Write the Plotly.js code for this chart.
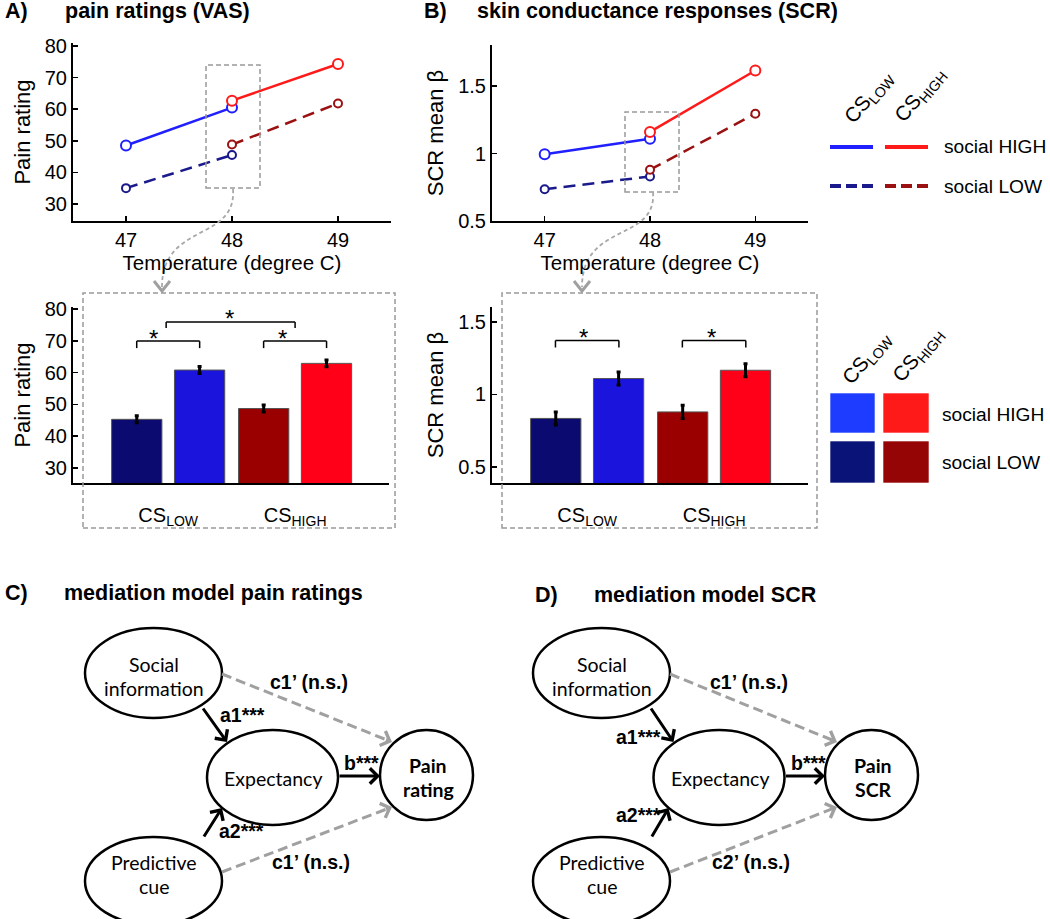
<!DOCTYPE html>
<html><head><meta charset="utf-8">
<script src="https://cdn.plot.ly/plotly-3.0.1.min.js"></script>
<style>html,body{margin:0;padding:0;background:#fff}</style>
</head><body><div id="chart" style="width:1050px;height:919px"></div>
<script>
// ---------------- DATA ----------------
const tempLowCue = [47, 48];
const tempHighCue = [48, 49];
const temperatureTicks = [47, 48, 49];
// pain ratings (VAS), line plot
const painCsLowSocHigh = [48.5, 60.5];
const painCsHighSocHigh = [62.7, 74.3];
const painCsLowSocLow = [35.0, 45.5];
const painCsHighSocLow = [48.8, 61.8];
// SCR mean beta, line plot
const scrCsLowSocHigh = [0.995, 1.11];
const scrCsHighSocHigh = [1.16, 1.615];
const scrCsLowSocLow = [0.735, 0.83];
const scrCsHighSocLow = [0.88, 1.295];
// bar plots at 48 degree C
const cueCategories = ['CS_LOW', 'CS_HIGH'];
const cueTickLabels = ['CS<sub>LOW</sub>', 'CS<sub>HIGH</sub>'];
const painBarSocLow = [45.3, 48.7];
const painBarSocLowErr = [1.1, 1.1];
const painBarSocHigh = [60.8, 62.9];
const painBarSocHighErr = [1.1, 1.1];
const scrBarSocLow = [0.835, 0.88];
const scrBarSocLowErr = [0.045, 0.045];
const scrBarSocHigh = [1.11, 1.167];
const scrBarSocHighErr = [0.045, 0.045];
const painTicks = [30, 40, 50, 60, 70, 80];
const scrTicks = [0.5, 1, 1.5];
const scrTickText = ['0.5', '1', '1.5'];
const legendRows = ['social HIGH', 'social LOW'];

// ---------------- STYLE ----------------
const C = {
  lineBlue: '#1f1fff', lineRed: '#ff1a1a', lineNavy: '#1a1a8c', lineDarkRed: '#9b1010',
  barNavy: '#0a0a70', barBlue: '#1a14dc', barDarkRed: '#9a0000', barRed: '#ff0018',
  sqBlue: '#1e3cff', sqRed: '#ff1a1a', sqNavy: '#0a1478', sqDarkRed: '#960505',
  grey: '#a0a0a0'
};
const FONT = 'Liberation Sans, Arial, Helvetica, sans-serif';
const DFONT = 'Lato, Carlito, Calibri, sans-serif';
const W = 1050, H = 919;
const px = x => x / W;
const py = y => 1 - y / H;

function lineTrace(x, y, color, dash, xa, ya, msize) {
  return {
    x: x, y: y, xaxis: xa, yaxis: ya, type: 'scatter', mode: 'lines+markers',
    line: {color: color, width: 2.5, dash: dash},
    marker: {symbol: 'circle', size: msize, color: 'white', line: {color: color, width: 2}},
    hoverinfo: 'skip'
  };
}
function barTrace(y, err, colors, xa, ya) {
  return {
    x: cueCategories, y: y, xaxis: xa, yaxis: ya, type: 'bar',
    marker: {color: colors, line: {color: '#555', width: 1}},
    error_y: {type: 'data', array: err, visible: true, color: 'black', thickness: 3, width: 2},
    hoverinfo: 'skip'
  };
}

const data = [
  lineTrace(tempLowCue, painCsLowSocHigh, C.lineBlue, 'solid', 'x', 'y', 10),
  lineTrace(tempHighCue, painCsHighSocHigh, C.lineRed, 'solid', 'x', 'y', 10),
  lineTrace(tempLowCue, painCsLowSocLow, C.lineNavy, '12px,7px', 'x', 'y', 8),
  lineTrace(tempHighCue, painCsHighSocLow, C.lineDarkRed, '12px,7px', 'x', 'y', 8),
  lineTrace(tempLowCue, scrCsLowSocHigh, C.lineBlue, 'solid', 'x2', 'y2', 10),
  lineTrace(tempHighCue, scrCsHighSocHigh, C.lineRed, 'solid', 'x2', 'y2', 10),
  lineTrace(tempLowCue, scrCsLowSocLow, C.lineNavy, '12px,7px', 'x2', 'y2', 8),
  lineTrace(tempHighCue, scrCsHighSocLow, C.lineDarkRed, '12px,7px', 'x2', 'y2', 8),
  barTrace(painBarSocLow, painBarSocLowErr, [C.barNavy, C.barDarkRed], 'x3', 'y3'),
  barTrace(painBarSocHigh, painBarSocHighErr, [C.barBlue, C.barRed], 'x3', 'y3'),
  barTrace(scrBarSocLow, scrBarSocLowErr, [C.barNavy, C.barDarkRed], 'x4', 'y4'),
  barTrace(scrBarSocHigh, scrBarSocHighErr, [C.barBlue, C.barRed], 'x4', 'y4')
];

const axBase = {
  showline: true, linecolor: 'black', linewidth: 2, showgrid: false, zeroline: false,
  ticks: 'inside', ticklen: 5, tickwidth: 1.5, tickcolor: 'black',
  tickfont: {family: FONT, size: 20, color: 'black'}, fixedrange: true
};
function xLine(dom, anchor) {
  return Object.assign({}, axBase, {domain: dom, anchor: anchor, range: [46.5, 49.5],
    tickmode: 'array', tickvals: temperatureTicks,
    title: {text: 'Temperature (degree C)', font: {family: FONT, size: 20.5, color: 'black'}, standoff: 3}});
}
function xBar(dom, anchor) {
  return Object.assign({}, axBase, {domain: dom, anchor: anchor, type: 'category',
    categoryorder: 'array', categoryarray: cueCategories, range: [-0.75, 1.74],
    tickmode: 'array', tickvals: cueCategories, ticktext: cueTickLabels, ticks: '',
    ticklabelstandoff: 13});
}
function yAx(dom, anchor, range, tv, tt, title) {
  const o = Object.assign({}, axBase, {domain: dom, anchor: anchor, range: range,
    tickmode: 'array', tickvals: tv,
    title: {text: title, font: {family: FONT, size: 22, color: 'black'}, standoff: 8}});
  if (tt) o.ticktext = tt;
  return o;
}

const shapes = [];
const annotations = [];
function P(xx, yy) { return px(xx).toFixed(5) + ',' + py(yy).toFixed(5); }
function shLine(x0, y0, x1, y1, color, width, dash) {
  shapes.push({type: 'line', xref: 'paper', yref: 'paper', x0: px(x0), y0: py(y0), x1: px(x1), y1: py(y1),
    line: {color: color, width: width, dash: dash || 'solid'}});
}
function shRect(x0, y0, x1, y1, line, fill) {
  shapes.push({type: 'rect', xref: 'paper', yref: 'paper', x0: px(x0), y0: py(y1), x1: px(x1), y1: py(y0),
    line: line, fillcolor: fill || 'rgba(0,0,0,0)'});
}
function shEllipse(cx, cy, rx, ry) {
  shapes.push({type: 'circle', xref: 'paper', yref: 'paper', x0: px(cx - rx), x1: px(cx + rx),
    y0: py(cy + ry), y1: py(cy - ry), line: {color: 'black', width: 2.5}, fillcolor: 'rgba(0,0,0,0)'});
}
function shPath(d, color, width, dash) {
  shapes.push({type: 'path', xref: 'paper', yref: 'paper', path: d, line: {color: color, width: width, dash: dash || 'solid'}});
}
function txt(x, y, text, size, opts) {
  opts = opts || {};
  annotations.push({xref: 'paper', yref: 'paper', x: px(x), y: py(y), text: text, showarrow: false,
    xanchor: opts.xa || 'center', yanchor: 'middle', textangle: opts.angle || 0,
    font: {family: opts.family || FONT, size: size, color: opts.color || 'black'}});
}
function arrow(x0, y0, x1, y1, color, width) {
  annotations.push({xref: 'paper', yref: 'paper', x: px(x1), y: py(y1), ax: x0 - x1, ay: y0 - y1,
    text: '', showarrow: true, arrowhead: 4, arrowsize: 1, arrowwidth: width, arrowcolor: color, standoff: 0});
}
function dashedArrow(x0, y0, x1, y1) {
  const L = Math.hypot(x1 - x0, y1 - y0), ux = (x1 - x0) / L, uy = (y1 - y0) / L;
  shLine(x0, y0, x1 - ux * 6, y1 - uy * 6, C.grey, 3, '10px,5px');
  arrow(x1 - ux * 8, y1 - uy * 8, x1, y1, C.grey, 3);
}
function bracket(xref, yref, xa, xb, ytop, ybot) {
  const b = {type: 'line', xref: xref, yref: yref, line: {color: 'black', width: 1.5}};
  shapes.push(Object.assign({}, b, {x0: xa, x1: xb, y0: ytop, y1: ytop}));
  shapes.push(Object.assign({}, b, {x0: xa, x1: xa, y0: ytop, y1: ybot}));
  shapes.push(Object.assign({}, b, {x0: xb, x1: xb, y0: ytop, y1: ybot}));
}
function star(xref, yref, x, y) {
  annotations.push({xref: xref, yref: yref, x: x, y: y, text: '*', showarrow: false,
    font: {family: FONT, size: 24, color: 'black'}});
}

// panel titles
const TS = 21.5;
txt(3, 11, '<b>A)</b>', TS, {xa: 'left'});
txt(63, 11, '<b>pain ratings (VAS)</b>', TS, {xa: 'left'});
txt(422, 11, '<b>B)</b>', TS, {xa: 'left'});
txt(475, 11, '<b>skin conductance responses (SCR)</b>', TS, {xa: 'left'});
txt(3, 593, '<b>C)</b>', TS, {xa: 'left'});
txt(62, 593, '<b>mediation model pain ratings</b>', TS, {xa: 'left'});
txt(533, 595, '<b>D)</b>', TS, {xa: 'left'});
txt(592, 595, '<b>mediation model SCR</b>', TS, {xa: 'left'});

// zoom boxes and connectors
const boxLine = {color: '#999', width: 1.5, dash: '5px,3px'};
shRect(206, 65, 260, 188, boxLine);
shRect(625, 112, 679, 192, boxLine);
shRect(83, 293, 395, 528, boxLine);
shRect(502, 293, 817, 528, boxLine);
function curved(dx, dy) {
  shPath('M' + P(233 + dx, 189 + dy) + ' C' + P(237 + dx, 242) + ' ' + P(162 + dx, 222) + ' ' + P(162 + dx, 287),
    '#a8a8a8', 1.8, '4px,3px');
  shPath('M' + P(154 + dx, 281) + ' L' + P(162 + dx, 291) + ' L' + P(170 + dx, 281), '#a0a0a0', 3);
}
curved(0, 0);
curved(420, 3);

// significance brackets
bracket('x3', 'y3', -0.248, 0.248, 69.9, 67.7);
bracket('x3', 'y3', 0.752, 1.248, 69.9, 67.7);
bracket('x3', 'y3', -0.016, 1.0, 75.9, 74.0);
star('x3', 'y3', -0.118, 70.8);
star('x3', 'y3', 0.898, 70.8);
star('x3', 'y3', 0.48, 77.1);
bracket('x4', 'y4', -0.25, 0.25, 1.372, 1.324);
bracket('x4', 'y4', 0.75, 1.25, 1.372, 1.324);
star('x4', 'y4', -0.03, 1.39);
star('x4', 'y4', 0.98, 1.39);

// legends (built from names/colours)
const hdrLabels = cueTickLabels;
// top (lines)
txt(869, 97, hdrLabels[0], 20.5, {angle: -50});
txt(920, 95, hdrLabels[1], 20.5, {angle: -50});
shLine(830, 147, 873, 147, C.lineBlue, 4);
shLine(885, 147, 928, 147, C.lineRed, 4);
shLine(830, 186, 873, 186, C.lineNavy, 4, '11px,5px');
shLine(885, 186, 928, 186, C.lineDarkRed, 4, '11px,5px');
txt(942, 147, legendRows[0], 19.2, {xa: 'left'});
txt(942, 186, legendRows[1], 19.2, {xa: 'left'});
// bottom (squares)
txt(867, 358, hdrLabels[0], 20.5, {angle: -50});
txt(918, 355, hdrLabels[1], 20.5, {angle: -50});
const sqLine = {color: 'rgba(255,255,255,0.6)', width: 1};
shRect(830, 393, 875, 433, sqLine, C.sqBlue);
shRect(883, 393, 929, 433, sqLine, C.sqRed);
shRect(830, 441, 875, 483, sqLine, C.sqNavy);
shRect(883, 441, 929, 483, sqLine, C.sqDarkRed);
txt(940, 414, legendRows[0], 19.2, {xa: 'left'});
txt(940, 462, legendRows[1], 19.2, {xa: 'left'});

// mediation diagrams
function diagram(ox, outcome, c2label, lab) {
  shEllipse(153.5 + ox, 673, 68.5, 45);
  shEllipse(272.5 + ox + lab.ex, 777.5, 65.5, 47.5);
  shEllipse(426.5 + ox + lab.px, 775, 46.5, 45);
  shEllipse(153.5 + ox, 881, 68.5, 44);
  txt(154 + ox, 664, 'Social', 19.5, {family: DFONT});
  txt(154 + ox, 688, 'information', 19.5, {family: DFONT});
  txt(273 + ox + lab.ex, 778, 'Expectancy', 19.5, {family: DFONT});
  txt(428 + ox + lab.px, 765, '<b>Pain</b>', 19.5, {family: DFONT});
  txt(428 + ox + lab.px, 789, '<b>' + outcome + '</b>', 19.5, {family: DFONT});
  txt(154 + ox, 862, 'Predictive', 19.5, {family: DFONT});
  txt(154 + ox, 886, 'cue', 19.5, {family: DFONT});
  arrow(202 + ox, 707, 227 + ox + lab.ex, 742, 'black', 3);
  arrow(203 + ox, 838, 222 + ox + lab.ex, 808, 'black', 3);
  arrow(338 + ox + lab.ex, 776, 380 + ox + lab.px, 776, 'black', 3);
  dashedArrow(222 + ox, 674, 392 + ox + lab.px, 742);
  dashedArrow(222 + ox, 872, 392 + ox + lab.px, 807);
  txt(lab.c1x, 682, '<b>c1’ (n.s.)</b>', 19.5, {xa: 'left'});
  txt(lab.c2x, 862, '<b>' + c2label + ' (n.s.)</b>', 19.5, {xa: 'left'});
  txt(lab.a1x, lab.a1y, '<b>a1***</b>', 19.5, {xa: 'left'});
  txt(lab.a2x, lab.a2y, '<b>a2***</b>', 19.5, {xa: 'left'});
  txt(342 + ox + lab.ex, 763, '<b>b***</b>', 19.5, {xa: 'left'});
}
diagram(0, 'rating', 'c1’', {ex: 0, px: 0, c1x: 268, c2x: 270, a1x: 218, a1y: 715, a2x: 217, a2y: 831});
diagram(448, 'SCR', 'c2’', {ex: -1.5, px: -3, c1x: 708, c2x: 710, a1x: 614, a1y: 737, a2x: 614, a2y: 815});

const layout = {
  width: W, height: H, margin: {l: 0, r: 0, t: 0, b: 0},
  paper_bgcolor: 'white', plot_bgcolor: 'rgba(0,0,0,0)',
  showlegend: false, hovermode: false,
  barmode: 'group', bargap: 0.01, bargroupgap: 0.2,
  font: {family: FONT, color: 'black'},
  xaxis: xLine([px(73), px(391)], 'y'),
  yaxis: yAx([py(221), py(43)], 'x', [24.6, 80.95], painTicks, null, 'Pain rating'),
  xaxis2: xLine([px(492), px(808)], 'y2'),
  yaxis2: yAx([py(221), py(45)], 'x2', [0.5, 1.804], scrTicks, scrTickText, 'SCR mean β'),
  xaxis3: xBar([px(73), px(389)], 'y3'),
  yaxis3: yAx([py(483), py(307)], 'x3', [25.28, 80.63], painTicks, null, 'Pain rating'),
  xaxis4: xBar([px(492), px(808)], 'y4'),
  yaxis4: yAx([py(483), py(307)], 'x4', [0.39, 1.603], scrTicks, scrTickText, 'SCR mean β'),
  shapes: shapes,
  annotations: annotations
};
Plotly.newPlot('chart', data, layout, {displayModeBar: false, staticPlot: true});
</script>
</body></html>
